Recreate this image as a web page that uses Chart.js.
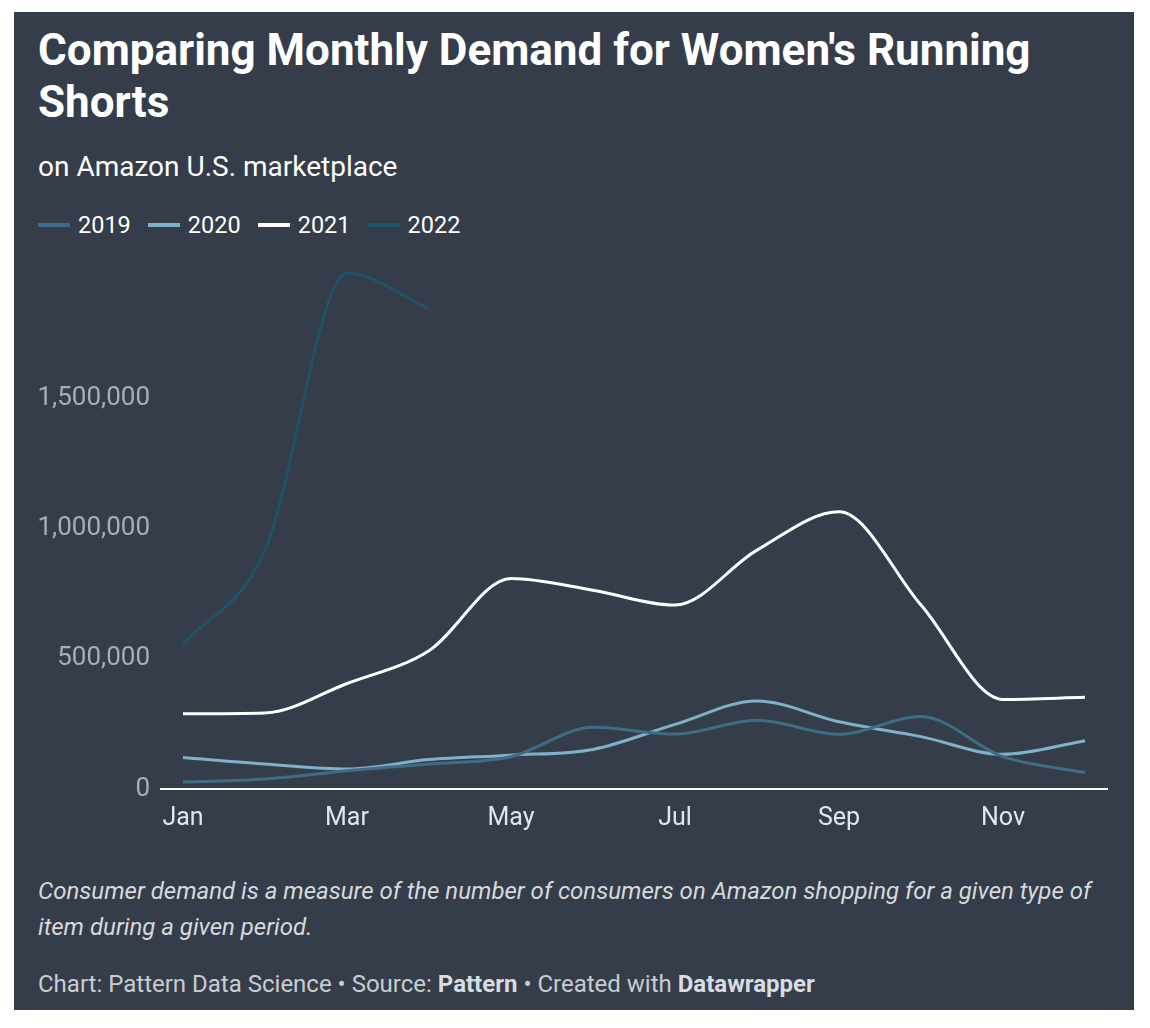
<!DOCTYPE html>
<html>
<head>
<meta charset="utf-8">
<script src="https://cdn.jsdelivr.net/npm/chart.js@4/dist/chart.umd.min.js"></script>
<style>
  html, body { margin: 0; padding: 0; background: #ffffff; }
  body { width: 1150px; height: 1028px; position: relative; overflow: hidden; font-family: Roboto, "Noto Sans", sans-serif; }
  #panel { position: absolute; left: 14px; top: 12px; width: 1120px; height: 998px; background: #353d4a; }
  #title { position: absolute; left: 38px; top: 24px; width: 1090px; color: #ffffff; font-weight: 700; font-size: 44px; line-height: 52px; }
  #subtitle { position: absolute; left: 38px; top: 150px; color: #ffffff; font-size: 28px; line-height: 34px; }
  #legend { position: absolute; left: 38px; top: 210px; display: flex; align-items: center; height: 30px; }
  .item { display: flex; align-items: center; margin-right: 17px; color: #ffffff; font-size: 23.5px; }
  .sw { width: 32px; height: 4px; margin-right: 8px; }
  #wrap { position: absolute; left: 14px; top: 240px; width: 1120px; height: 610px; }
  #notes { position: absolute; left: 38px; top: 873px; width: 1080px; color: #d6d9dd; font-style: italic; font-size: 24px; line-height: 36px; }
  #footer { position: absolute; left: 38px; top: 969px; color: #c9cdd2; font-size: 24px; line-height: 30px; }
  #footer b { font-weight: 700; color: #d9dce0; }
</style>
</head>
<body>
<div id="panel"></div>
<div id="title">Comparing Monthly Demand for Women's Running Shorts</div>
<div id="subtitle">on Amazon U.S. marketplace</div>
<div id="legend"></div>
<div id="wrap"><canvas id="c" width="1120" height="610"></canvas></div>
<div id="notes">Consumer demand is a measure of the number of consumers on Amazon shopping for a given type of item during a given period.</div>
<div id="footer">Chart: Pattern Data Science • Source: <b>Pattern</b> • Created with <b>Datawrapper</b></div>
<script>
const months = ["Jan","Feb","Mar","Apr","May","Jun","Jul","Aug","Sep","Oct","Nov","Dec"];
const seriesNames = ["2019","2020","2021","2022"];
const seriesColors = ["#3f6d85","#80b1cb","#ffffff","#1f5468"];
const values2019 = [27000, 38000, 70000, 96000, 124000, 237000, 211000, 264000, 210000, 278000, 124000, 63000];
const values2020 = [121000, 96000, 77000, 113000, 130000, 152000, 248000, 338000, 258000, 201000, 133000, 185000];
const values2021 = [289000, 292000, 405000, 531000, 808000, 763000, 706000, 917000, 1064000, 706000, 344000, 352000];
const values2022 = [556000, 917000, 1980000, 1844000];
const yTicks = [0, 500000, 1000000, 1500000];
const xTickMonths = ["Jan","Mar","May","Jul","Sep","Nov"];

const allValues = [values2019, values2020, values2021, values2022];

// legend
const leg = document.getElementById('legend');
seriesNames.forEach((n, i) => {
  const it = document.createElement('div'); it.className = 'item';
  const sw = document.createElement('div'); sw.className = 'sw'; sw.style.background = seriesColors[i];
  const tx = document.createElement('span'); tx.textContent = n;
  it.appendChild(sw); it.appendChild(tx); leg.appendChild(it);
});

Chart.defaults.font.family = 'Roboto';
const datasets = allValues.map((vals, i) => ({
  label: seriesNames[i],
  data: vals.map((v, j) => ({ x: j, y: v })),
  borderColor: seriesColors[i],
  backgroundColor: seriesColors[i],
  borderWidth: 3,
  pointRadius: 0,
  pointHoverRadius: 0,
  cubicInterpolationMode: 'monotone',
  fill: false
}));
datasets[2].order = -1;

new Chart(document.getElementById('c'), {
  type: 'line',
  data: { datasets },
  options: {
    responsive: false,
    animation: false,
    events: [],
    layout: { padding: { left: 0, right: 27, top: 28, bottom: 0 } },
    plugins: { legend: { display: false }, tooltip: { enabled: false } },
    scales: {
      x: {
        type: 'linear',
        min: -0.268,
        max: 11.268,
        afterFit: s => { s.height = 61; },
        afterBuildTicks: s => { s.ticks = xTickMonths.map(m => ({ value: months.indexOf(m) })); },
        ticks: {
          autoSkip: false,
          maxRotation: 0,
          padding: 15,
          color: '#e3e6ea',
          font: { size: 25 },
          callback: v => months[v] || ''
        },
        grid: { display: false, drawTicks: false },
        border: { display: true, color: '#ffffff', width: 2 }
      },
      y: {
        min: 0,
        max: 2000000,
        afterFit: s => { s.width = 147; },
        afterBuildTicks: s => { s.ticks = yTicks.map(v => ({ value: v })); },
        ticks: {
          padding: 11,
          color: '#a9aeb5',
          font: { size: 26 },
          callback: v => v.toLocaleString('en-US')
        },
        grid: { display: false, drawTicks: false },
        border: { display: false }
      }
    }
  }
});
</script>
</body>
</html>
